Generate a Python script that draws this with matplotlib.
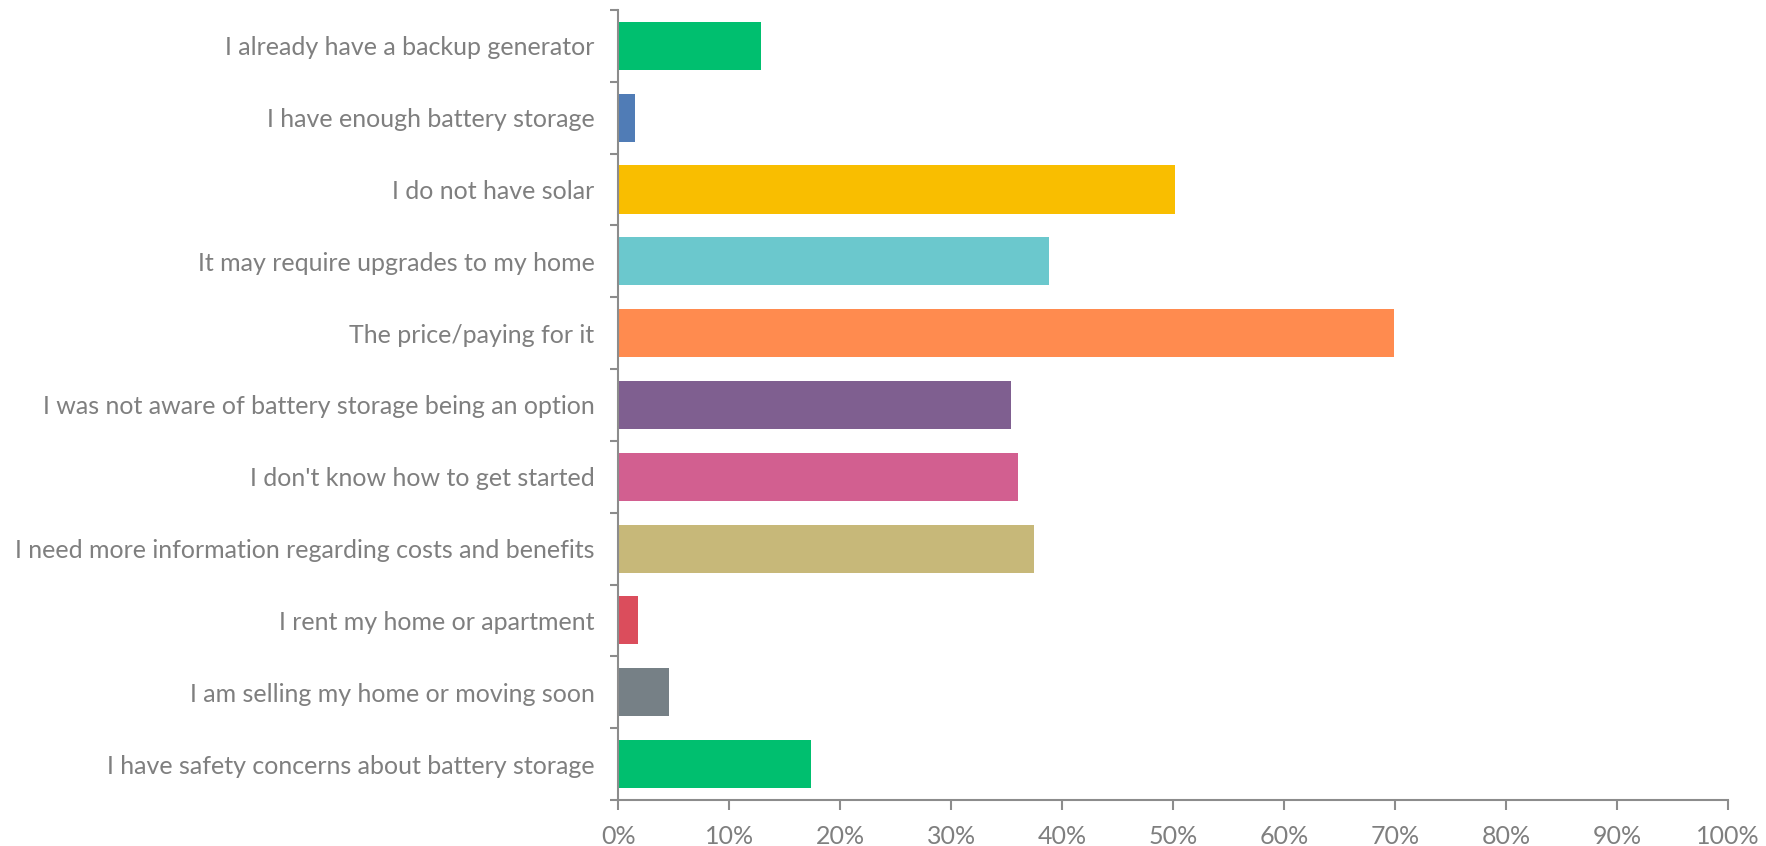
import matplotlib.pyplot as plt
import numpy as np
from matplotlib.ticker import FixedLocator, PercentFormatter

plt.rcParams['font.family'] = ['Lato', 'DejaVu Sans']

# Survey answers, top to bottom
reasons = [
    'I already have a backup generator',
    'I have enough battery storage',
    'I do not have solar',
    'It may require upgrades to my home',
    'The price/paying for it',
    'I was not aware of battery storage being an option',
    "I don't know how to get started",
    'I need more information regarding costs and benefits',
    'I rent my home or apartment',
    'I am selling my home or moving soon',
    'I have safety concerns about battery storage',
]
shares = [12.9, 1.5, 50.2, 38.8, 69.9, 35.4, 36.0, 37.5, 1.8, 4.6, 17.4]
colors = ['#00BF6F', '#507CB6', '#F9BE00', '#6BC8CD', '#FF8B4F', '#7F5F90',
          '#D25F90', '#C7B879', '#DB4D5C', '#768086', '#00BF6F']

text_grey = '#7f7f7f'
axis_grey = '#8c8c8c'

fig = plt.figure(figsize=(17.66, 8.46), dpi=100)
ax = fig.add_axes([0.35, 0.0544, 0.6285, 0.9338])

y = np.arange(len(reasons))
ax.barh(y, shares, height=0.67, color=colors)

ax.set_xlim(0, 100)
ax.set_ylim(len(reasons) - 0.5, -0.5)
ax.set_xticks(np.arange(0, 101, 10))
ax.xaxis.set_major_formatter(PercentFormatter(decimals=0))
ax.set_yticks(y)
ax.set_yticklabels(reasons)
ax.yaxis.set_minor_locator(FixedLocator(np.arange(-0.5, len(reasons), 1)))

ax.tick_params(axis='y', which='major', length=0, pad=17, labelsize=18,
               labelcolor=text_grey)
ax.tick_params(axis='y', which='minor', length=6, width=1.5, color=axis_grey)
ax.tick_params(axis='x', length=7, width=1.5, color=axis_grey, pad=11,
               labelsize=18, labelcolor=text_grey)

for side in ['top', 'right']:
    ax.spines[side].set_visible(False)
for side in ['left', 'bottom']:
    ax.spines[side].set_color(axis_grey)
    ax.spines[side].set_linewidth(1.5)

fig.savefig('out.png', dpi=100)
